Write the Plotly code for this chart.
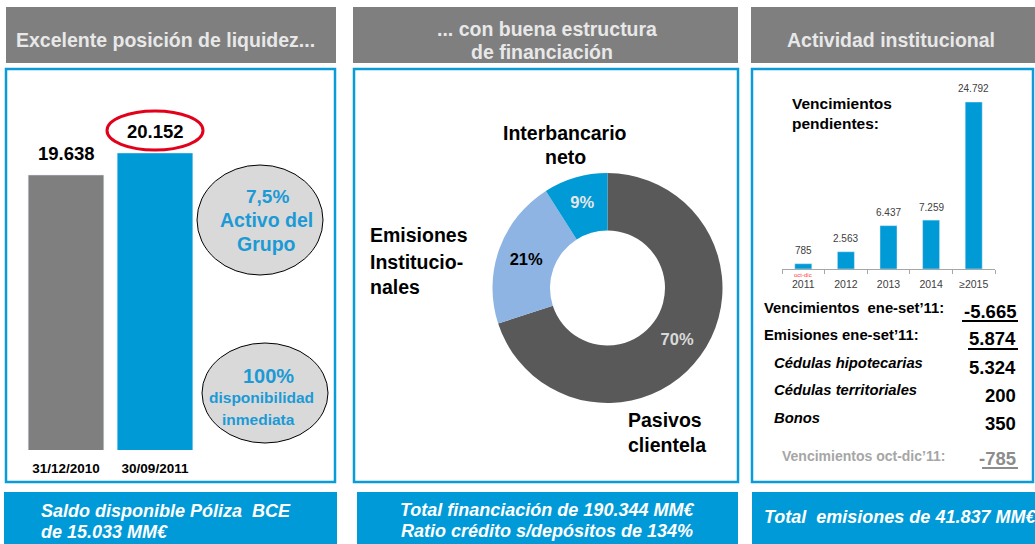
import plotly.graph_objects as go

W, H = 1035, 544
FONT = "Liberation Sans, Arial, sans-serif"

# ---------------- data ----------------
liq_dates = ["31/12/2010", "30/09/2011"]
liq_values = [19638, 20152]
liq_colors = ["#7f7f7f", "#009ad7"]

fin_labels = ["Pasivos clientela", "Emisiones Institucionales", "Interbancario neto"]
fin_values = [70, 21, 9]
fin_colors = ["#595959", "#8eb4e3", "#009ad7"]
fin_text_colors = ["#d9d9d9", "#000000", "#e6e6e6"]

venc_years = ["2011", "2012", "2013", "2014", "≥2015"]
venc_values = [785, 2563, 6437, 7259, 24792]

table_labels = ["Vencimientos  ene-set’11:", "Emisiones ene-set’11:", "Cédulas hipotecarias",
                "Cédulas territoriales", "Bonos", "Vencimientos oct-dic’11:"]
table_values = [-5665, 5874, 5324, 200, 350, -785]


def fmt(v):
    return f"{v:,}".replace(",", ".")


def X(px):
    return px / W


def Y(py):
    return 1 - py / H


fig = go.Figure()

# ---------------- left bar chart ----------------
fig.add_trace(go.Bar(
    x=liq_dates, y=liq_values, marker_color=liq_colors, width=0.85,
    xaxis="x", yaxis="y", showlegend=False, hoverinfo="skip",
))

# ---------------- donut ----------------
fig.add_trace(go.Pie(
    labels=fin_labels, values=fin_values, marker=dict(colors=fin_colors, line=dict(width=0)),
    hole=0.5, sort=False, direction="clockwise", rotation=0,
    texttemplate="<b>%{value}%</b>", textposition="inside", insidetextorientation="horizontal",
    insidetextfont=dict(family=FONT, size=16.5, color=fin_text_colors),
    domain=dict(x=[X(492), X(723)], y=[Y(403), Y(173)]),
    showlegend=False, hoverinfo="skip",
))

# ---------------- right bar chart ----------------
fig.add_trace(go.Bar(
    x=venc_years, y=venc_values, marker_color="#009ad7", width=0.4,
    xaxis="x2", yaxis="y2", showlegend=False, hoverinfo="skip",
))

shapes = []
ann = []


def rect(x0, y0, x1, y1, fill=None, line=None, lw=0):
    shapes.append(dict(type="rect", xref="paper", yref="paper", x0=X(x0), x1=X(x1), y0=Y(y1), y1=Y(y0),
                       fillcolor=fill if fill else "rgba(0,0,0,0)",
                       line=dict(color=line if line else "rgba(0,0,0,0)", width=lw), layer="below"))


def text(t, x, y, size, color="#000000", xanchor="center", bold=True, italic=False):
    s = t
    if bold:
        s = "<b>" + s + "</b>"
    if italic:
        s = "<i>" + s + "</i>"
    ann.append(dict(text=s, x=X(x), y=Y(y), xref="paper", yref="paper", showarrow=False,
                    xanchor=xanchor, yanchor="middle", font=dict(family=FONT, size=size, color=color)))


# headers
HEAD = "#7f7f7f"
HTXT = "#e8e8e8"
rect(6, 7, 336, 63, fill=HEAD)
rect(353, 7, 738, 63, fill=HEAD)
rect(751, 7, 1035, 63, fill=HEAD)
text("Excelente posición de liquidez...", 165, 40, 19.5, HTXT)
text("... con buena estructura", 547, 29, 19.5, HTXT)
text("de financiación", 542, 52, 19.5, HTXT)
text("Actividad institucional", 891, 40, 19.5, HTXT)

# content boxes
BL = "#0a9bd8"
rect(6, 69, 335, 482, line=BL, lw=2.5)
rect(354, 69, 738, 482, line=BL, lw=2.5)
rect(752, 69, 1033, 482, line=BL, lw=2.5)

# footers
FB = "#009ad8"
rect(4, 492, 337, 546, fill=FB)
rect(357, 492, 738, 546, fill=FB)
rect(752, 492, 1037, 546, fill=FB)
text("Saldo disponible Póliza  BCE", 39, 511, 18, "#ffffff", "left", True, True)
text("de 15.033 MM€", 39, 532, 18, "#ffffff", "left", True, True)
text("Total financiación de 190.344 MM€", 547, 510, 18, "#ffffff", "center", True, True)
text("Ratio crédito s/depósitos de 134%", 547, 531, 18, "#ffffff", "center", True, True)
text("Total  emisiones de 41.837 MM€", 762, 517, 18, "#ffffff", "left", True, True)

# left panel value labels
for i, v in enumerate(liq_values):
    ann.append(dict(text="<b>" + fmt(v) + "</b>", x=i, y=v, xref="x", yref="y", showarrow=False,
                    yanchor="middle", yshift=21, font=dict(family=FONT, size=18.5, color="#000000")))

# red ellipse around latest value
shapes.append(dict(type="circle", xref="paper", yref="paper", x0=X(107), x1=X(203), y0=Y(150), y1=Y(111),
                   line=dict(color="#e3001b", width=3)))
# grey bubbles
shapes.append(dict(type="circle", xref="paper", yref="paper", x0=X(197), x1=X(323), y0=Y(275), y1=Y(165),
                   fillcolor="#d9d9d9", line=dict(color="#000000", width=1)))
shapes.append(dict(type="circle", xref="paper", yref="paper", x0=X(202), x1=X(328), y0=Y(443), y1=Y(343),
                   fillcolor="#d9d9d9", line=dict(color="#000000", width=1)))
CB = "#1b9ad6"
text("7,5%", 267, 196, 19, CB)
text("Activo del", 266, 220, 19.5, CB)
text("Grupo", 266, 244, 19.5, CB)
text("100%", 268, 376, 20, CB)
text("disponibilidad", 261, 397, 15.5, CB)
text("inmediata", 258, 419, 15.5, CB)

# donut outside labels
text("Interbancario", 565, 133, 19.5)
text("neto", 565, 157, 19.5)
text("Emisiones", 368, 235, 19.5, xanchor="left")
text("Institucio-", 368, 262, 19.5, xanchor="left")
text("nales", 368, 287, 19.5, xanchor="left")
text("Pasivos", 626, 420, 19.5, xanchor="left")
text("clientela", 626, 445, 19.5, xanchor="left")

# right panel
text("Vencimientos", 790, 103, 15.5, xanchor="left")
text("pendientes:", 790, 124, 15.5, xanchor="left")
for i, v in enumerate(venc_values):
    ann.append(dict(text=fmt(v), x=i, y=v, xref="x2", yref="y2", showarrow=False,
                    yanchor="middle", yshift=13, font=dict(family=FONT, size=10, color="#404040")))
ann.append(dict(text="oct-dic", x=0, y=Y(274.5), xref="x2", yref="paper", showarrow=False,
                yanchor="middle", font=dict(family=FONT, size=6, color="#ff3b3b")))

# table
rows_y = [308, 335, 363, 390, 418, 456]
vals_y = [311, 338, 367, 395, 423, 458]
for i, (lab, v) in enumerate(zip(table_labels, table_values)):
    italic = i in (2, 3, 4)
    grey = i == 5
    lx = 772 if italic else (780 if grey else 762)
    col = "#a6a6a6" if grey else "#000000"
    text(lab, lx, rows_y[i], 14 if grey else 14.8, col, "left", True, italic)
    text(fmt(v), 1018, vals_y[i], 18.5, "#8c8c8c" if grey else "#000000", "right", True)
# underlines
for (x0, x1, yy, col) in [(962, 1018, 321, "#000000"), (968, 1018, 349, "#000000"), (982, 1018, 468, "#8c8c8c")]:
    shapes.append(dict(type="line", xref="paper", yref="paper", x0=X(x0), x1=X(x1), y0=Y(yy), y1=Y(yy),
                       line=dict(color=col, width=2)))

fig.update_layout(
    width=W, height=H, margin=dict(l=0, r=0, t=0, b=0),
    paper_bgcolor="#ffffff", plot_bgcolor="rgba(0,0,0,0)",
    font=dict(family=FONT),
    shapes=shapes, annotations=ann, bargap=0.15,
    xaxis=dict(domain=[X(21.5), X(199.5)], range=[-0.5, 1.5], type="category", showgrid=False, zeroline=False,
               showline=False, ticks="", tickvals=liq_dates,
               ticktext=["<b>" + d + "</b>" for d in liq_dates],
               tickfont=dict(family=FONT, size=13.5, color="#000000"), ticklabelstandoff=8),
    yaxis=dict(domain=[Y(450), Y(130)], range=[13213, 20689], visible=False),
    xaxis2=dict(domain=[X(782), X(995)], range=[-0.5, 4.5], type="category", anchor="y2", showgrid=False,
                zeroline=False, showline=True, linecolor="#a6a6a6", linewidth=1, ticks="outside",
                tickson="boundaries", ticklen=4, tickcolor="#a6a6a6", ticklabelstandoff=5,
                tickfont=dict(family=FONT, size=10.5, color="#404040")),
    yaxis2=dict(domain=[Y(269), Y(90)], range=[0, 26573], visible=False, anchor="x2"),
)

fig.write_html("out.html", config={"displayModeBar": False},
               post_script="document.body.style.margin='0';document.body.style.overflow='hidden';")
